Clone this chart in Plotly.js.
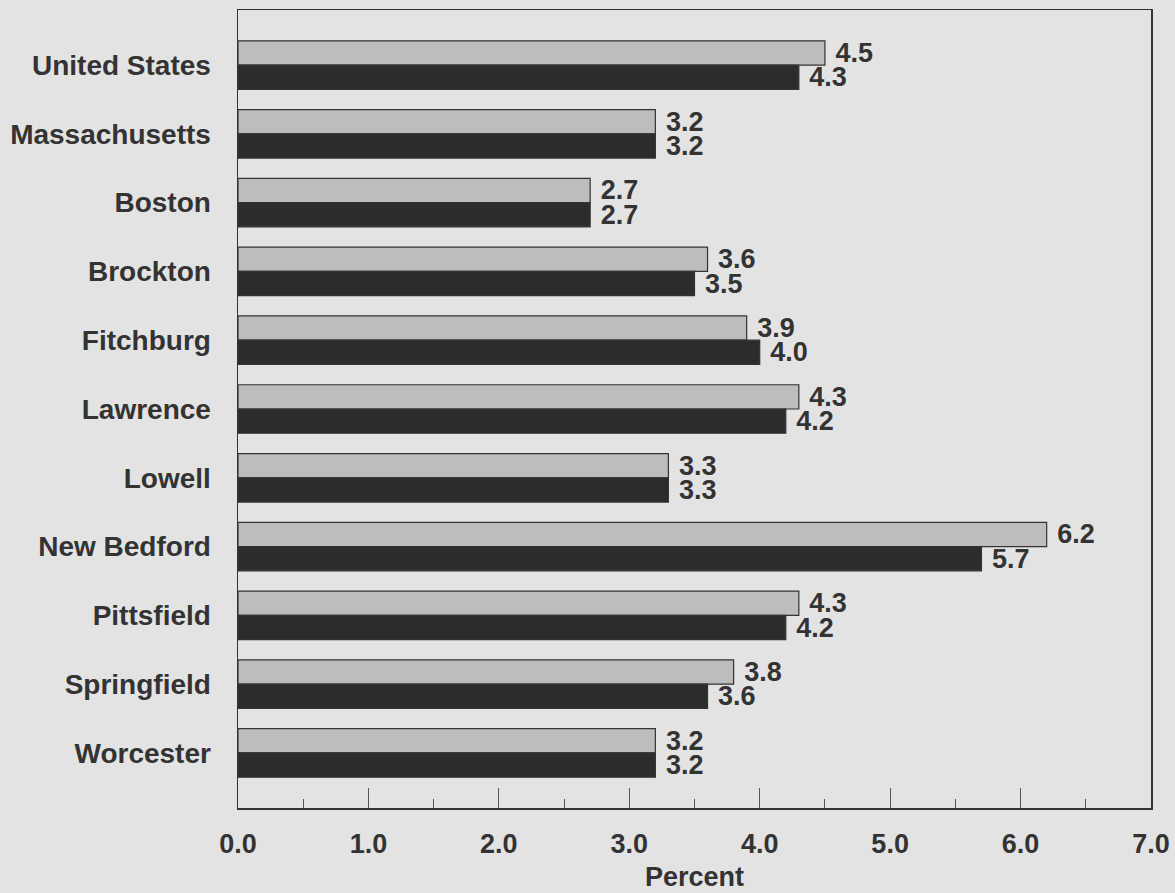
<!DOCTYPE html>
<html>
<head>
<meta charset="utf-8">
<script src="https://cdn.plot.ly/plotly-3.0.1.min.js"></script>
<style>
  html, body { margin: 0; padding: 0; background: #e3e3e3; }
  #chart { width: 1175px; height: 893px; }
</style>
</head>
<body>
<div id="chart"></div>
<script>
// Places shown down the left side, top to bottom
const places = [
  "United States", "Massachusetts", "Boston", "Brockton", "Fitchburg",
  "Lawrence", "Lowell", "New Bedford", "Pittsfield", "Springfield", "Worcester"
];

// Upper (light gray) bar of each pair, percent
const grayValues = [4.5, 3.2, 2.7, 3.6, 3.9, 4.3, 3.3, 6.2, 4.3, 3.8, 3.2];

// Lower (black) bar of each pair, percent
const blackValues = [4.3, 3.2, 2.7, 3.5, 4.0, 4.2, 3.3, 5.7, 4.2, 3.6, 3.2];

const xTickValues = [0, 1, 2, 3, 4, 5, 6, 7];

const textFont = { family: "Liberation Sans, Arial, sans-serif", size: 27, color: "#333333", weight: 700 };

function barTrace(values, fill) {
  return {
    type: "bar",
    orientation: "h",
    y: places,
    x: values,
    text: values.map(v => "\u00a0" + v.toFixed(1)),
    textposition: "outside",
    cliponaxis: false,
    constraintext: "none",
    textfont: textFont,
    hoverinfo: "skip",
    marker: { color: fill, line: { color: "#333333", width: 1.2 } },
    showlegend: false
  };
}

const data = [
  barTrace(grayValues, "#bdbdbd"),
  barTrace(blackValues, "#2b2d2b")
];

const layout = {
  width: 1175,
  height: 893,
  margin: { l: 238, r: 24, t: 10, b: 85 },
  paper_bgcolor: "#e3e3e3",
  plot_bgcolor: "#e3e3e3",
  barmode: "group",
  bargap: 0.295,
  bargroupgap: 0,
  font: { family: "Liberation Sans, Arial, sans-serif", color: "#333333" },
  xaxis: {
    range: [0, 7],
    tickvals: xTickValues,
    tickformat: ".1f",
    ticks: "inside",
    ticklen: 20,
    tickwidth: 1,
    tickcolor: "#555555",
    minor: { dtick: 0.5, ticks: "inside", ticklen: 9, tickcolor: "#555555", tickwidth: 1 },
    showgrid: false,
    zeroline: false,
    showline: true,
    mirror: true,
    linecolor: "#333333",
    linewidth: 1.5,
    tickfont: textFont,
    ticklabelstandoff: 11
  },
  yaxis: {
    type: "category",
    categoryorder: "array",
    categoryarray: places,
    range: [10.8, -0.8],
    ticks: "",
    showgrid: false,
    zeroline: false,
    showline: true,
    mirror: true,
    linecolor: "#333333",
    linewidth: 1.5,
    tickfont: { family: "Liberation Sans, Arial, sans-serif", size: 28, color: "#333333", weight: 700 },
    ticklabelstandoff: 20
  },
  // x-axis caption, placed below the tick labels
  annotations: [{
    text: "Percent",
    xref: "paper", yref: "paper",
    x: 0.5, y: 0,
    xanchor: "center", yanchor: "middle",
    yshift: -69,
    showarrow: false,
    font: textFont
  }]
};

Plotly.newPlot("chart", data, layout, { displayModeBar: false, staticPlot: true });
</script>
</body>
</html>
